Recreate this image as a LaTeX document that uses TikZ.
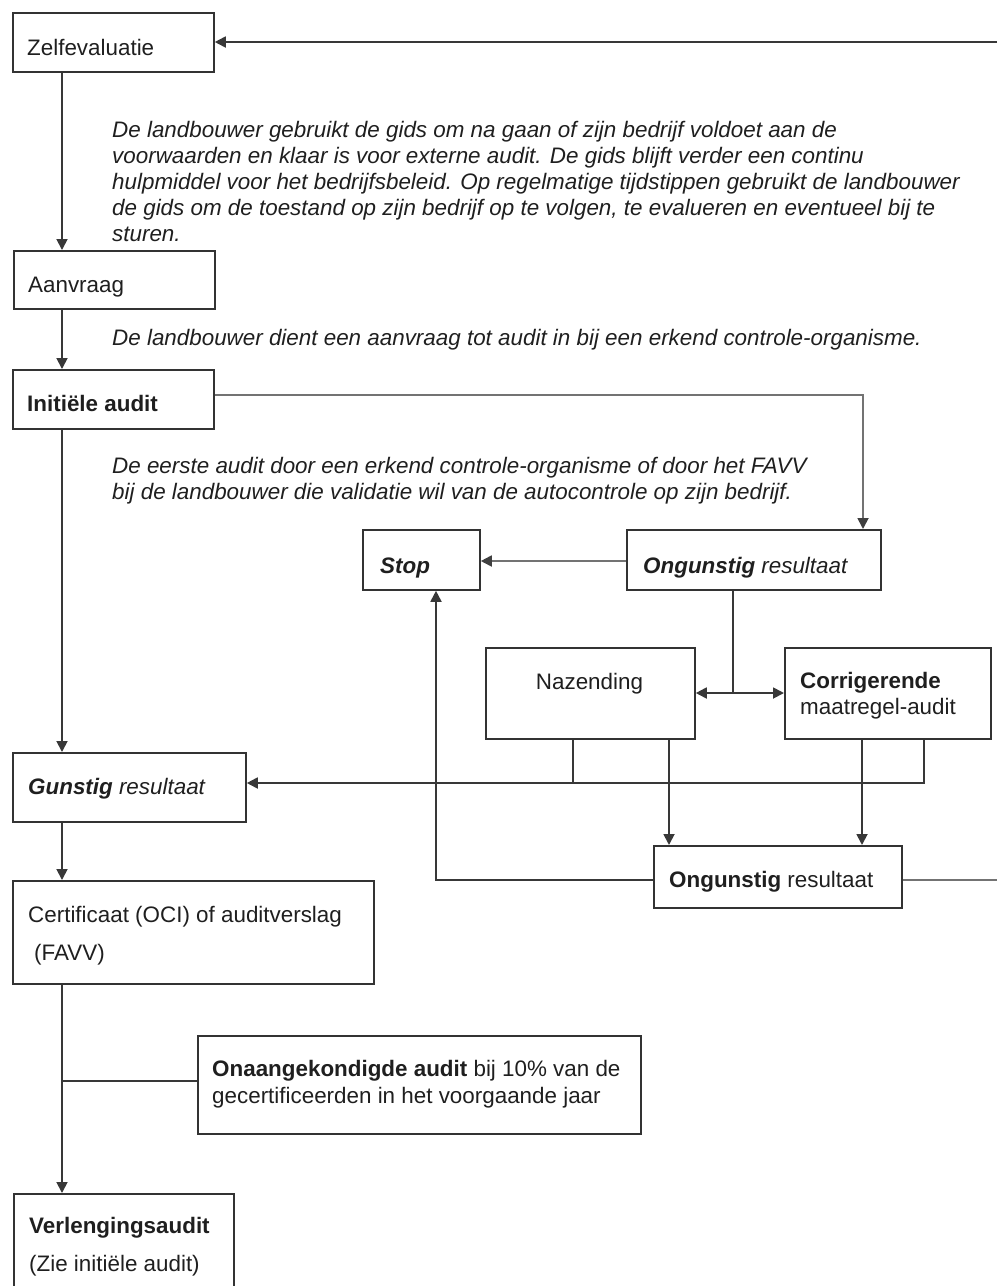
\documentclass[tikz,border=0pt]{standalone}
\usepackage{fontspec}
\setmainfont{Liberation Sans}
\usetikzlibrary{arrows.meta,calc}
\begin{document}
\begin{tikzpicture}[x=1pt,y=-1pt,
  box/.style={draw=black!80, line width=1.8pt, anchor=north west, inner sep=0pt},
  txt/.style={anchor=base west, inner sep=0pt, text=black!88, font=\fontsize{22.4}{26}\selectfont},
  itxt/.style={txt, font=\fontsize{22.4}{26}\selectfont\itshape},
  ln/.style={draw=black!78, line width=1.8pt},
  lng/.style={ln, draw=black!55},
  tip/.style={-{Triangle[length=11pt,width=11pt]}},
  arr/.style={ln, tip},
  arrg/.style={lng, -{Triangle[length=11pt,width=11pt,color=black!75]}}
]
\clip (0,0) rectangle (997,1286);
% boxes
\node[box, minimum width=201pt, minimum height=59pt] (zelf) at (12,12) {};
\node[box, minimum width=201pt, minimum height=58pt] (aan) at (13,250) {};
\node[box, minimum width=201pt, minimum height=59pt] (init) at (12,369) {};
\node[box, minimum width=117pt, minimum height=60pt] (stop) at (362,529) {};
\node[box, minimum width=254pt, minimum height=60pt] (ong1) at (626,529) {};
\node[box, minimum width=209pt, minimum height=91pt] (naz) at (485,647) {};
\node[box, minimum width=206pt, minimum height=91pt] (corr) at (784,647) {};
\node[box, minimum width=233pt, minimum height=69pt] (gun) at (12,752) {};
\node[box, minimum width=248pt, minimum height=62pt] (ong2) at (653,845) {};
\node[box, minimum width=361pt, minimum height=103pt] (cert) at (12,880) {};
\node[box, minimum width=443pt, minimum height=98pt] (onaan) at (197,1035) {};
\node[box, minimum width=220pt, minimum height=120pt] (verl) at (13,1193) {};
% texts
\node[txt] (zelfT) at (27,55) {Zelfevaluatie};
\node[itxt] (p1a) at (112,137) {De landbouwer gebruikt de gids om na gaan of zijn bedrijf voldoet aan de};
\node[itxt] (p1b) at (112,163) {voorwaarden en klaar is voor externe audit. De gids blijft verder een continu};
\node[itxt] (p1c) at (112,189) {hulpmiddel voor het bedrijfsbeleid. Op regelmatige tijdstippen gebruikt de landbouwer};
\node[itxt] (p1d) at (112,215) {de gids om de toestand op zijn bedrijf op te volgen, te evalueren en eventueel bij te};
\node[itxt] (p1e) at (112,241) {sturen.};
\node[txt] (aanT) at (28,292) {Aanvraag};
\node[itxt] (p2) at (112,345) {De landbouwer dient een aanvraag tot audit in bij een erkend controle-organisme.};
\node[txt, font=\fontsize{22.4}{26}\selectfont\bfseries] (initT) at (27,411) {Initiële audit};
\node[itxt] (p3a) at (112,473) {De eerste audit door een erkend controle-organisme of door het FAVV};
\node[itxt] (p3b) at (112,499) {bij de landbouwer die validatie wil van de autocontrole op zijn bedrijf.};
\node[txt, font=\fontsize{22.4}{26}\selectfont\bfseries\itshape] (stopT) at (380,573) {Stop};
\node[txt] (ong1T) at (643,573) {\textbf{\textit{Ongunstig}} \textit{resultaat}};
\node[txt, anchor=base] (nazT) at (589.5,689) {Nazending};
\node[txt, font=\fontsize{22.4}{26}\selectfont\bfseries] (corrT1) at (800,688) {Corrigerende};
\node[txt] (corrT2) at (800,714) {maatregel-audit};
\node[txt] (gunT) at (28,794) {\textbf{\textit{Gunstig}} \textit{resultaat}};
\node[txt] (ong2T) at (669,887) {\textbf{Ongunstig} resultaat};
\node[txt] (certT1) at (28,922) {Certificaat (OCI) of auditverslag};
\node[txt] (certT2) at (34,960) {(FAVV)};
\node[txt] (onaT1) at (212,1076) {\textbf{Onaangekondigde audit} bij 10\% van de};
\node[txt] (onaT2) at (212,1103) {gecertificeerden in het voorgaande jaar};
\node[txt, font=\fontsize{22.4}{26}\selectfont\bfseries] (verlT1) at (29,1233) {Verlengingsaudit};
\node[txt] (verlT2) at (29,1271) {(Zie initiële audit)};
% helper coordinates
\coordinate (colL) at (62,0);
\coordinate (c0) at (997,42);
\coordinate (c1) at (863,395);
\coordinate (c2) at (0,561);
\coordinate (c3) at (733,693);
\coordinate (c4) at (924,783);
\coordinate (c5) at (573,783);
\coordinate (c6) at (669,0);
\coordinate (c7) at (862,0);
\coordinate (c8) at (436,880);
\coordinate (c9) at (997,880);
\coordinate (branch) at (62,1081);
% connectors
\draw[arr] (c0) -- (zelf.east |- c0);
\draw[arr] (zelf.south -| colL) -- (aan.north -| colL);
\draw[arr] (aan.south -| colL) -- (init.north -| colL);
\draw[arr] (init.south -| colL) -- (gun.north -| colL);
\draw[arr] (gun.south -| colL) -- (cert.north -| colL);
\draw[arr] (cert.south -| colL) -- (verl.north -| colL);
\draw[ln] (branch) -- (onaan.west |- branch);
\draw[arrg] (init.east |- c1) -- (c1) -- (ong1.north -| c1);
\draw[arrg] (ong1.west |- c2) -- (stop.east |- c2);
\draw[ln] (ong1.south -| c3) -- (c3);
\draw[ln, {Triangle[length=11pt,width=11pt]}-{Triangle[length=11pt,width=11pt]}] (naz.east |- c3) -- (corr.west |- c3);
\draw[arr] (corr.south -| c4) -- (c4) -- (gun.east |- c4);
\draw[ln] (naz.south -| c5) -- (c5);
\draw[arr] (naz.south -| c6) -- (ong2.north -| c6);
\draw[arr] (corr.south -| c7) -- (ong2.north -| c7);
\draw[arr] (ong2.west |- c8) -- (c8) -- (stop.south -| c8);
\draw[lng] (ong2.east |- c9) -- (c9);
\end{tikzpicture}
\end{document}
